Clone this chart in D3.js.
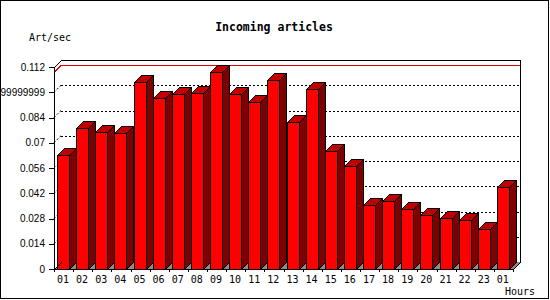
<!DOCTYPE html>
<html lang="en">
<head>
    <meta charset="UTF-8">
    <title>Incoming articles</title>
    <style>
        body { margin: 0; background: #fff; }
        svg { display: block; font-family: "DejaVu Sans Mono", monospace; }
        .axis text { font-size: 10px; fill: #000; }
    </style>
</head>
<body>
<svg></svg>
<script src="https://d3js.org/d3.v7.min.js"></script>
<script>
    var hours = ["01", "02", "03", "04", "05", "06", "07", "08", "09", "10", "11", "12",
        "13", "14", "15", "16", "17", "18", "19", "20", "21", "22", "23", "01"];
    var artPerSec = [0.0630, 0.0780, 0.0758, 0.0752, 0.1035, 0.0946, 0.0969, 0.0974, 0.1090, 0.0969, 0.0924, 0.1048,
        0.0813, 0.0996, 0.0654, 0.0569, 0.0353, 0.0377, 0.0331, 0.0298, 0.0281, 0.0270, 0.0220, 0.0453];
    var yTicks = [0, 0.014, 0.028, 0.042, 0.056, 0.07, 0.084, 0.098, 0.112];
    var yTickLabels = ["0", "0.014", "0.028", "0.042", "0.056", "0.07", "0.084", "0.09799999999999999", "0.112"];

    var width = 550;
    var height = 300;
    var depth = 7;              // 3d offset
    var pLeft = 54, pRight = 513, pBottom = 269, pTop = 67;
    var barW = 12;

    var svg = d3.select("svg")
        .attr("width", width)
        .attr("height", height)
        .attr("shape-rendering", "crispEdges");

    svg.append("rect")
        .attr("x", 0.5).attr("y", 0.5)
        .attr("width", width - 2).attr("height", height - 2)
        .attr("fill", "#fff").attr("stroke", "#000");

    var x = d3.scaleBand().domain(d3.range(hours.length)).range([pLeft, pRight]);
    var xl = d3.scaleLinear().domain([0, hours.length]).range([pLeft, pRight]);
    var y = d3.scaleLinear().domain([0, 0.112]).range([pBottom, pTop]);

    //背面网格线
    var grid = svg.append("g");
    grid.selectAll("line.back")
        .data(yTicks.slice(1, -1))
        .enter().append("line")
        .attr("x1", pLeft + depth).attr("x2", pRight + depth)
        .attr("y1", function (d) { return Math.round(y(d)) - depth + 0.5; })
        .attr("y2", function (d) { return Math.round(y(d)) - depth + 0.5; })
        .attr("stroke", "#000").attr("stroke-dasharray", "2,2");
    grid.selectAll("line.side")
        .data(yTicks.slice(1, -1))
        .enter().append("line")
        .attr("x1", pLeft).attr("x2", pLeft + depth)
        .attr("y1", function (d) { return y(d); })
        .attr("y2", function (d) { return y(d) - depth; })
        .attr("stroke", "#000").attr("stroke-dasharray", "2,2")
        .attr("shape-rendering", "auto");

    //最大值红线
    var ymax = Math.round(y(d3.max(artPerSec))) + 0.5;
    svg.append("path")
        .attr("d", "M" + pLeft + "," + ymax + "L" + (pLeft + depth) + "," + (ymax - depth) + "H" + (pRight + depth))
        .attr("fill", "none").attr("stroke", "#e00000");

    //地面
    svg.append("path")
        .attr("d", "M" + pLeft + "," + pBottom + "H" + pRight + "L" + (pRight + depth) + "," + (pBottom - depth) +
            "H" + (pLeft + depth) + "Z")
        .attr("fill", "#8c8c8c");

    var bars = svg.append("g").attr("stroke", "#000").attr("stroke-linejoin", "miter");
    var bar = bars.selectAll("g")
        .data(artPerSec)
        .enter().append("g")
        .attr("transform", function (d, i) { return "translate(" + (Math.round(x(i)) + 3) + ",0)"; });

    bar.append("path")
        .attr("fill", "#7f0000")
        .attr("d", function (d) {
            var t = Math.round(y(d)) + 0.5;
            return "M" + (barW + 0.5) + "," + t + "L" + (barW + depth + 0.5) + "," + (t - depth) +
                "V" + (pBottom - depth + 0.5) + "L" + (barW + 0.5) + "," + (pBottom + 0.5) + "Z";
        });
    bar.append("path")
        .attr("fill", "#c00000")
        .attr("d", function (d) {
            var t = Math.round(y(d)) + 0.5;
            return "M0.5," + t + "L" + (depth + 0.5) + "," + (t - depth) + "H" + (barW + depth + 0.5) +
                "L" + (barW + 0.5) + "," + t + "Z";
        });
    bar.append("rect")
        .attr("fill", "#ff0000")
        .attr("x", 0.5)
        .attr("y", function (d) { return Math.round(y(d)) + 0.5; })
        .attr("width", barW)
        .attr("height", function (d) { return pBottom - Math.round(y(d)); });

    //外框
    svg.append("path")
        .attr("d", "M" + (pLeft + 0.5) + "," + (pBottom + 0.5) + "V" + (pTop + 0.5) +
            "L" + (pLeft + depth + 0.5) + "," + (pTop - depth + 0.5) + "H" + (pRight + depth + 0.5) +
            "V" + (pBottom - depth + 0.5) + "L" + (pRight + 0.5) + "," + (pBottom + 0.5) +
            "M" + (pLeft + 0.5) + "," + (pBottom + 0.5) + "L" + (pLeft + depth + 0.5) + "," + (pBottom - depth + 0.5))
        .attr("fill", "none").attr("stroke", "#000");
    svg.append("line")
        .attr("x1", pLeft).attr("x2", pRight + 1)
        .attr("y1", pBottom + 0.5).attr("y2", pBottom + 0.5)
        .attr("stroke", "#000");

    //纵坐标
    var yAxis = d3.axisLeft(y)
        .tickValues(yTicks)
        .tickFormat(function (d, i) { return yTickLabels[i]; })
        .tickSize(5).tickPadding(4);
    var gy = svg.append("g").attr("class", "axis")
        .attr("transform", "translate(" + pLeft + ",0)")
        .call(yAxis);
    gy.select(".domain").remove();

    //横坐标
    var xAxis = d3.axisBottom(xl).tickValues(d3.range(hours.length + 1)).tickSize(3).tickFormat("");
    var gx = svg.append("g").attr("class", "axis")
        .attr("transform", "translate(0," + pBottom + ")")
        .call(xAxis);
    gx.select(".domain").remove();
    gx.selectAll(".tick line").attr("y1", 1);

    svg.append("g").attr("class", "axis")
        .selectAll("text")
        .data(hours)
        .enter().append("text")
        .attr("x", function (d, i) { return x(i) + 9; })
        .attr("y", 283)
        .attr("text-anchor", "middle")
        .text(function (d) { return d; });

    svg.append("text")
        .attr("x", 274).attr("y", 30.5)
        .attr("text-anchor", "middle")
        .attr("font-size", "11.5px").attr("font-weight", "bold")
        .text("Incoming articles");

    svg.append("text")
        .attr("x", 29).attr("y", 41)
        .attr("font-size", "10px")
        .text("Art/sec");

    svg.append("text")
        .attr("x", 505).attr("y", 295)
        .attr("font-size", "10px")
        .text("Hours");
</script>
</body>
</html>
